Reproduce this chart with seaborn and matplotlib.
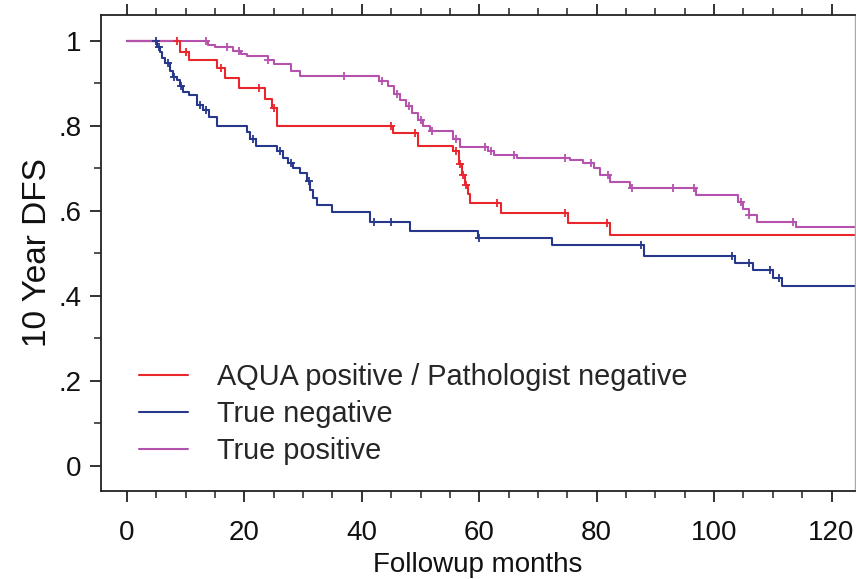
import numpy as np
import pandas as pd
import matplotlib
matplotlib.use("Agg")
import matplotlib.pyplot as plt
import seaborn as sns
from matplotlib.ticker import MultipleLocator, FixedLocator

# ---- data ----
groups = ["AQUA positive / Pathologist negative", "True negative", "True positive"]
colors = ["#e8262c", "#27378c", "#b552ad"]

# AQUA positive / Pathologist negative
red_time = [0, 9, 10.5, 15.3, 16.7, 19, 23.5, 24.7, 25.5, 45.3, 49.6, 55.5, 56.5,
            57, 57.5, 58, 58.4, 63.7, 75.1, 82.3, 125]
red_surv = [1, 0.975, 0.954, 0.936, 0.912, 0.889, 0.864, 0.842, 0.80, 0.783, 0.753,
            0.74, 0.71, 0.685, 0.66, 0.64, 0.619, 0.596, 0.572, 0.544, 0.544]
red_cens = [8.5, 10, 16, 22.5, 25, 45, 49, 56, 56.8, 57.3, 57.8, 63, 74.6, 81.8]

# True negative
blue_time = [0, 5.1, 5.6, 6, 6.5, 7.3, 7.8, 8.5, 9, 9.5, 10.5, 12, 13, 14, 15.3,
             20.4, 21, 22, 25.5, 26.5, 27.5, 28.3, 29.5, 30.7, 31.2, 31.7, 32.4, 35,
             41.4, 48.2, 59.8, 72.4, 88, 103.6, 106.7, 110, 111.6, 125]
blue_surv = [1, 0.985, 0.975, 0.96, 0.947, 0.93, 0.915, 0.908, 0.895, 0.88, 0.873,
             0.849, 0.838, 0.82, 0.80, 0.785, 0.77, 0.753, 0.74, 0.725, 0.713, 0.70,
             0.689, 0.67, 0.65, 0.63, 0.614, 0.598, 0.575, 0.553, 0.537, 0.52, 0.493,
             0.477, 0.461, 0.442, 0.424, 0.424]
blue_cens = [5, 5.5, 7, 8, 9.2, 12.5, 13.5, 21.5, 26, 28, 31, 42, 45, 60, 87.5,
             103, 106, 109.5, 111]

# True positive
mag_time = [0, 13.8, 15, 18, 19.5, 20.5, 24, 25, 28, 29.5, 43, 44.5, 45.5, 46.5,
            47.5, 48.5, 49.5, 50.5, 51.6, 55.5, 56.7, 61.5, 62.5, 66.4, 75.5, 77.7,
            79.5, 80.5, 82.3, 85.7, 97, 104, 105, 106, 107.3, 114, 125]
mag_surv = [1, 0.99, 0.986, 0.976, 0.97, 0.965, 0.955, 0.946, 0.93, 0.918, 0.906,
            0.894, 0.876, 0.862, 0.846, 0.83, 0.814, 0.80, 0.787, 0.77, 0.751, 0.74,
            0.732, 0.725, 0.72, 0.713, 0.70, 0.685, 0.669, 0.653, 0.638, 0.62, 0.605,
            0.59, 0.575, 0.562, 0.562]
mag_cens = [13.5, 17, 19, 24, 37, 43.5, 46, 48, 50, 52, 56, 61, 62, 66, 74.6, 79,
            82, 86, 93, 96.5, 104.5, 106, 113.5]

x_ticks = [0, 20, 40, 60, 80, 100, 120]
y_ticks = [0, 0.2, 0.4, 0.6, 0.8, 1.0]
y_ticklabels = ["0", ".2", ".4", ".6", ".8", "1"]

# ---- build frames ----
curves = []
cens = []
for g, t, s, c in [(groups[0], red_time, red_surv, red_cens),
                   (groups[1], blue_time, blue_surv, blue_cens),
                   (groups[2], mag_time, mag_surv, mag_cens)]:
    curves.append(pd.DataFrame({"time": t, "surv": s, "group": g}))
    t_arr = np.array(t)
    s_arr = np.array(s)
    idx = np.searchsorted(t_arr, np.array(c), side="right") - 1
    cens.append(pd.DataFrame({"time": c, "surv": s_arr[idx], "group": g}))
curve_df = pd.concat(curves, ignore_index=True)
cens_df = pd.concat(cens, ignore_index=True)

sns.set_theme(style="white")
plt.rcParams["font.family"] = ["Liberation Sans", "DejaVu Sans"]
FS = 20

fig = plt.figure(figsize=(8.56, 5.79), dpi=100)
ax = fig.add_axes([101 / 856, 1 - 491 / 579, (855 - 101) / 856, (491 - 15) / 579])

palette = dict(zip(groups, colors))
for g in groups:
    d = curve_df[curve_df.group == g]
    sns.lineplot(data=d, x="time", y="surv", color=palette[g], drawstyle="steps-post",
                 estimator=None, sort=False, linewidth=1.5, ax=ax, label=g)
    dc = cens_df[cens_df.group == g]
    sns.scatterplot(data=dc, x="time", y="surv", color=palette[g], marker="+", s=35,
                    linewidth=1.3, ax=ax, legend=False, zorder=3)

ax.set_xlim(-4.43, 124.0)
ax.set_ylim(-0.059, 1.061)

ax.xaxis.set_major_locator(FixedLocator(x_ticks))
ax.xaxis.set_minor_locator(MultipleLocator(5))
ax.yaxis.set_major_locator(FixedLocator(y_ticks))
ax.yaxis.set_minor_locator(MultipleLocator(0.1))
ax.set_yticklabels(y_ticklabels)

ax.tick_params(axis="x", which="both", direction="out", bottom=True, top=True,
               labeltop=False, colors="#222222", labelcolor="#111111")
ax.tick_params(axis="y", which="both", direction="out", left=True, right=False,
               colors="#222222", labelcolor="#111111")
ax.tick_params(which="major", length=8, width=1.3, labelsize=FS)
ax.tick_params(which="minor", length=5, width=1.1)
ax.tick_params(axis="x", which="major", pad=13)
ax.tick_params(axis="y", which="major", pad=6)

for side in ["left", "bottom", "top"]:
    ax.spines[side].set_color("#222222")
    ax.spines[side].set_linewidth(1.3)
ax.spines["right"].set_color("#aaaaaa")
ax.spines["right"].set_linewidth(1.0)

ax.set_xlabel("Followup months", fontsize=FS, color="#111111", labelpad=4)
ax.set_ylabel("10 Year DFS", fontsize=24, color="#111111", labelpad=4)

leg = ax.legend(loc="upper left", bbox_to_anchor=(0.05, 0.268), frameon=False,
                fontsize=20.8, handlelength=1.7, handletextpad=1.0, labelspacing=0.3,
                borderpad=0, borderaxespad=0)
for line in leg.get_lines():
    line.set_linewidth(1.5)

fig.savefig("out.png", dpi=100)
